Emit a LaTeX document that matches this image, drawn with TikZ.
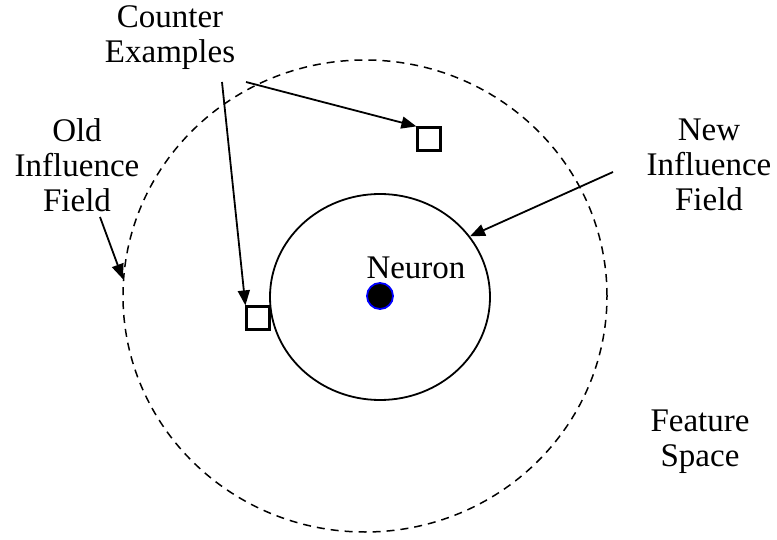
\documentclass[tikz,border=0pt]{standalone}
\usepackage{fontspec}
\setmainfont{Liberation Serif}
\usetikzlibrary{arrows.meta,shapes.geometric}

\begin{document}
\begin{tikzpicture}[
    x=1pt, y=-1pt,
    >={Triangle[length=15pt, width=12pt]},
    line/.style   = {line width=1.8pt},
    field/.style  = {draw, ellipse, inner sep=0pt},
    sample/.style = {draw, line width=2.2pt, minimum size=23pt, inner sep=0pt},
    neuron/.style = {circle, fill=black, draw=blue, line width=1.8pt,
                     minimum size=26pt, inner sep=0pt},
    txt/.style    = {align=center, font=\fontsize{33}{35}\selectfont}
]
\useasboundingbox (0,0) rectangle (777,540);

% Influence fields
\node[field, line width=1.5pt, dash pattern=on 8pt off 6pt,
      minimum width=484pt, minimum height=472pt] (old) at (365,296) {};
\node[field, line width=1.8pt,
      minimum width=220pt, minimum height=206pt] (new) at (380,297) {};

% Neuron and counter examples
\node[neuron] (nrn) at (380,296) {};
\node[txt] (nrnlbl) at (416,268) {Neuron};
\node[sample] (sqA) at (429,139) {};
\node[sample] (sqB) at (258,318) {};

% Labels
\node[txt] (ce) at (170,38) {Counter\\Examples};
\node[txt] (ofl) at (77,165) {Old\\Influence\\Field};
\node[txt] (nfl) at (709,165) {New\\Influence\\Field};
\node[txt] (fs) at (700,442) {Feature\\Space};

% Pointer lines
\coordinate (ceA) at (246,82);
\coordinate (ceB) at (222,82);
\coordinate (nfp) at (613,172);
\coordinate (ofp) at (100,217);

\draw[->, line] (ceA) -- (sqA.north west);
\draw[->, line] (ceB) -- (sqB.north west);
\draw[->, line] (nfp) -- (new.34);
\draw[->, line] (ofp) -- (old.176);

\end{tikzpicture}
\end{document}
